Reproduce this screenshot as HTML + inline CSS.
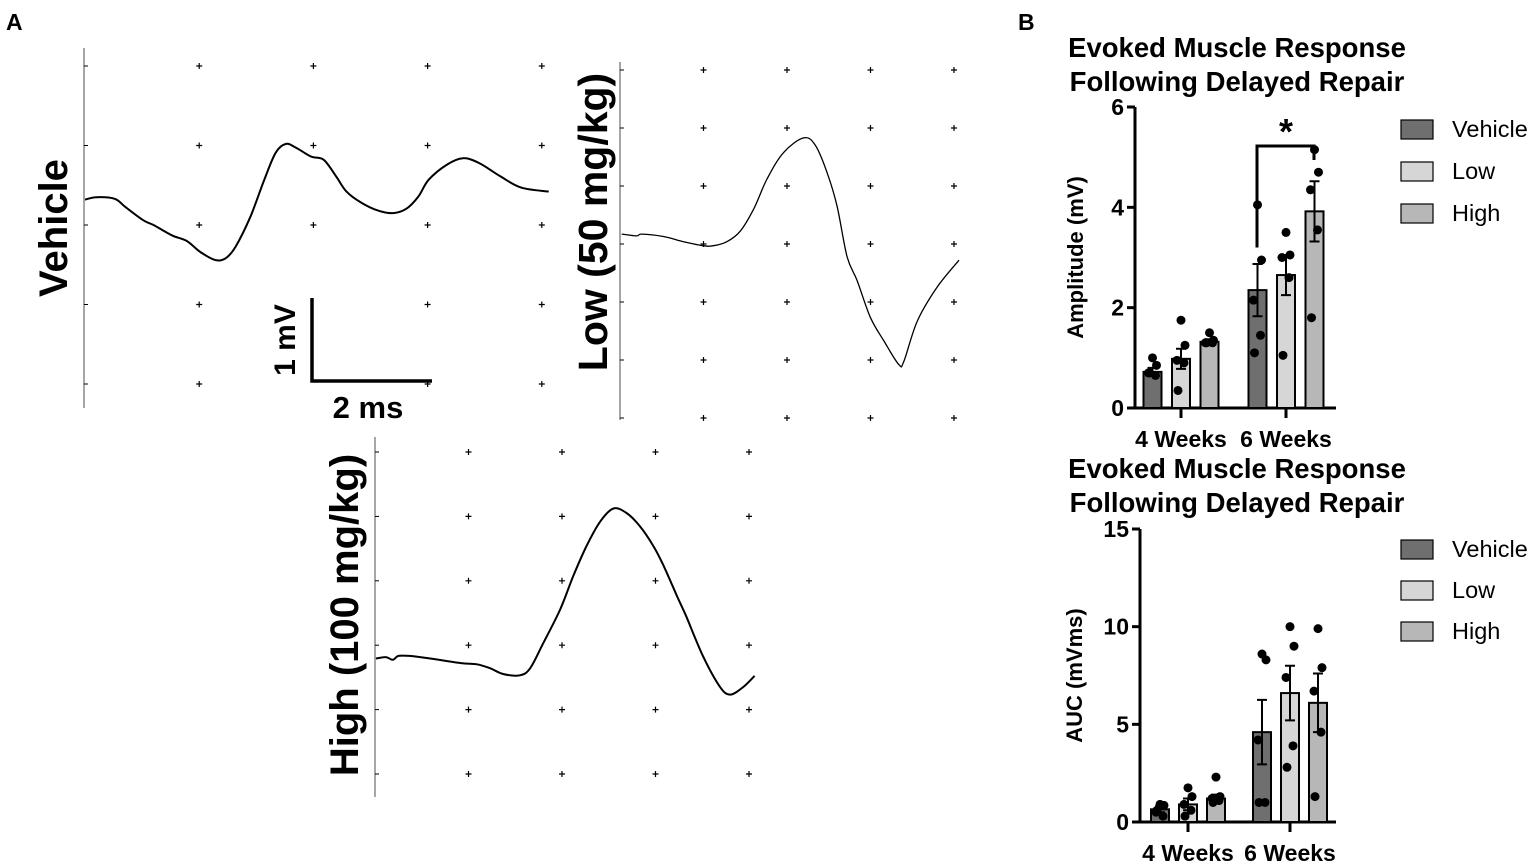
<!DOCTYPE html>
<html><head><meta charset="utf-8"><style>
body{margin:0;background:#fff;font-family:"Liberation Sans",Arial,sans-serif}
svg{display:block}
text{font-family:"Liberation Sans",Arial,sans-serif;font-weight:bold;fill:#000}
</style></head><body>
<svg id="fig" width="1535" height="866" viewBox="0 0 1535 866">
<text x="6" y="30" font-size="23">A</text>
<text x="1018" y="30" font-size="23">B</text>
<g id="traces"></g>
<g id="bars"></g>
</svg>
<script>
// ---- EMG traces (grid units: columns, rows) ----
const vehU=[0,0.10,0.26,0.35,0.51,0.60,0.76,0.89,1.01,1.14,1.23,1.32,1.45,1.57,1.67,1.76,1.85,1.98,2.09,2.20,2.29,2.42,2.57,2.70,2.82,2.92,3.01,3.17,3.31,3.45,3.64,3.82,4.06];
const vehV=[0.32,0.35,0.33,0.23,0.06,0,-0.13,-0.20,-0.34,-0.44,-0.42,-0.27,0.11,0.57,0.91,1.02,0.97,0.86,0.82,0.61,0.42,0.28,0.18,0.15,0.21,0.36,0.57,0.76,0.84,0.78,0.61,0.47,0.42];
const lowU=[0.02,0.2,0.26,0.52,0.76,1.0,1.12,1.28,1.44,1.6,1.76,1.96,2.2,2.34,2.48,2.6,2.72,2.84,3.0,3.16,3.34,3.4,3.56,3.8,4.06];
const lowV=[0.17,0.14,0.17,0.13,0.04,-0.03,-0.03,0.04,0.22,0.6,1.12,1.58,1.83,1.70,1.23,0.65,-0.22,-0.63,-1.27,-1.67,-2.08,-2.02,-1.33,-0.74,-0.28];
const highU=[0.01,0.12,0.19,0.25,0.37,0.59,0.91,1.09,1.23,1.37,1.55,1.66,1.8,1.98,2.12,2.26,2.41,2.55,2.69,2.83,2.98,3.09,3.23,3.33,3.51,3.69,3.8,3.94,4.06];
const highV=[-0.21,-0.19,-0.23,-0.17,-0.17,-0.21,-0.28,-0.30,-0.36,-0.45,-0.47,-0.36,0.03,0.55,1.07,1.53,1.92,2.12,2.05,1.85,1.53,1.22,0.76,0.44,-0.18,-0.65,-0.77,-0.65,-0.48];

// ---- Bar chart data ----
const groups=['4 Weeks','6 Weeks'];
const seriesNames=['Vehicle','Low','High'];
const ampMeans=[[0.72,2.35],[0.98,2.65],[1.32,3.92]];
const ampErr=[[0.08,0.52],[0.2,0.4],[0.05,0.6]];
const ampPts=[[[1.0,0.85,0.7,0.65,0.7],[4.05,2.95,2.15,1.45,1.1]],
              [[1.75,1.25,0.95,0.9,0.35],[3.5,3.05,3.0,2.6,1.05]],
              [[1.5,1.35,1.3,1.3,1.3],[5.15,4.7,4.35,3.55,1.8]]];
const ampTicks=[0,2,4,6];
const aucMeans=[[0.65,4.6],[0.9,6.6],[1.2,6.1]];
const aucErr=[[0.15,1.65],[0.3,1.4],[0.2,1.5]];
const aucPts=[[[0.9,0.85,0.5,0.3,0.6],[8.6,8.3,4.2,1.0,1.0]],
              [[1.75,1.3,0.9,0.6,0.3],[10.0,9.0,7.4,3.9,2.8]],
              [[2.3,1.3,1.2,1.1,1.0],[9.9,7.9,6.7,4.6,1.3]]];
const aucTicks=[0,5,10,15];

const NS='http://www.w3.org/2000/svg';
function mk(tag,attrs,parent){const e=document.createElementNS(NS,tag);for(const k in attrs)e.setAttribute(k,attrs[k]);parent.appendChild(e);return e;}

function smooth(P){
  let d='M'+P[0][0].toFixed(1)+','+P[0][1].toFixed(1);
  for(let i=0;i<P.length-1;i++){
    const p0=P[Math.max(0,i-1)],p1=P[i],p2=P[i+1],p3=P[Math.min(P.length-1,i+2)];
    const c1=[p1[0]+(p2[0]-p0[0])/6,p1[1]+(p2[1]-p0[1])/6];
    const c2=[p2[0]-(p3[0]-p1[0])/6,p2[1]-(p3[1]-p1[1])/6];
    d+=`C${c1[0].toFixed(1)},${c1[1].toFixed(1)} ${c2[0].toFixed(1)},${c2[1].toFixed(1)} ${p2[0].toFixed(1)},${p2[1].toFixed(1)}`;
  }
  return d;
}

const T=document.getElementById('traces');
function panel(p){
  const g=mk('g',{},T);
  
  
  const ax=mk('line',{x1:p.ax,y1:p.yTop,x2:p.ax,y2:p.yBot,stroke:'#888','stroke-width':1.5},g);
  
  
  for(let r=0;r<p.nr;r++){
    const y=p.r0+r*p.rs;
    mk('line',{x1:p.ax,y1:y,x2:p.ax+4,y2:y,stroke:'#000','stroke-width':1},g);
    for(let c=1;c<=4;c++){
      const x=p.c0+c*p.cs;
      if(p.skip&&p.skip(c,r))continue;
      const pl=mk('path',{d:`M${x-3},${y}H${x+3}M${x},${y-3}V${y+3}`,stroke:'#000','stroke-width':1.2},g);
      
      
    }
  }
  const sx=u=>p.c0+u*p.cs, sy=v=>p.zy-v*p.rs;
  const P=p.u.map((u,i)=>[sx(u),sy(p.v[i])]);
  const tr=mk('path',{d:smooth(P),fill:'none',stroke:'#000','stroke-width':p.sw,'stroke-linejoin':'round'},g);
  
  
  const lb=mk('text',{x:0,y:0,'font-size':p.fs,'text-anchor':'middle',transform:`translate(${p.lx},${p.ly}) rotate(-90)`},g);
  lb.textContent=p.label;
  
  
}
panel({name:'vehicle-trace-panel',ax:84,yTop:48,yBot:408,c0:85,cs:114.2,r0:66,rs:79.5,nr:5,zy:225,u:vehU,v:vehV,sw:2,label:'Vehicle',lx:67,ly:228,fs:40,
  skip:(c,r)=>(r>=3&&(c===2))});
panel({name:'low-trace-panel',ax:620,yTop:62,yBot:420,c0:620,cs:83.5,r0:70,rs:58,nr:7,zy:244,u:lowU,v:lowV,sw:1.3,label:'Low (50 mg/kg)',lx:607,ly:222,fs:41});
panel({name:'high-trace-panel',ax:375,yTop:437,yBot:797,c0:375,cs:93.5,r0:452,rs:64.4,nr:6,zy:645,u:highU,v:highV,sw:2,label:'High (100 mg/kg)',lx:358,ly:615,fs:40});

// scale bar
const sb=mk('g',{},T);


mk('path',{d:'M312,298V381H432',fill:'none',stroke:'#000','stroke-width':3.5},sb);
const mv=mk('text',{x:0,y:0,'font-size':30,'text-anchor':'middle',transform:'translate(295,340) rotate(-90)'},sb);
mv.textContent='1 mV';


const ms=mk('text',{x:368,y:418,'font-size':31,'text-anchor':'middle'},sb);
ms.textContent='2 ms';



// ---- Bar charts ----
const B=document.getElementById('bars');
const colors=['#6f6f6f','#d6d6d6','#b7b7b7'];
function chart(c){
  const g=mk('g',{},B);
  
  
  const ys=v=>c.y0-(v/c.max)*(c.y0-c.yTop);
  ['Evoked Muscle Response','Following Delayed Repair'].forEach((t,i)=>{
    const e=mk('text',{x:1237,y:c.titleY+i*34,'font-size':27.5,'text-anchor':'middle'},g);
    e.textContent=t;
    
    
  });
  const yl=mk('text',{x:0,y:0,'font-size':22,'text-anchor':'middle',transform:`translate(${c.ylx},${(c.y0+c.yTop)/2}) rotate(-90)`},g);
  yl.textContent=c.ylabel;
  
  
  mk('line',{x1:c.ax,y1:c.yTop,x2:c.ax,y2:c.y0,stroke:'#000','stroke-width':3},g);
  mk('line',{x1:c.ax-8,y1:c.y0,x2:1336,y2:c.y0,stroke:'#000','stroke-width':3},g);
  c.ticks.forEach(t=>{
    mk('line',{x1:c.ax-8,y1:ys(t),x2:c.ax,y2:ys(t),stroke:'#000','stroke-width':3},g);
    const e=mk('text',{x:c.ax-11,y:ys(t)+8,'font-size':23,'text-anchor':'end'},g);
    e.textContent=t;
    
    
  });
  groups.forEach((gn,gi)=>{
    const cx=c.gc[gi];
    mk('line',{x1:cx,y1:c.y0,x2:cx,y2:c.y0+10,stroke:'#000','stroke-width':3},g);
    const e=mk('text',{x:cx,y:c.y0+39,'font-size':23,'text-anchor':'middle'},g);
    e.textContent=gn;
    
    
    for(let s=0;s<3;s++){
      const bx=cx+(s-1)*c.step, w=18, m=c.means[s][gi], er=c.err[s][gi];
      const r=mk('rect',{x:bx-w/2,y:ys(m),width:w,height:c.y0-ys(m),fill:colors[s],stroke:'#000','stroke-width':2},g);
      
      
      const eb=mk('path',{d:`M${bx},${ys(m-er)}V${ys(m+er)}M${bx-5},${ys(m+er)}H${bx+5}M${bx-5},${ys(m-er)}H${bx+5}`,stroke:'#000','stroke-width':2,fill:'none'},g);
      
      
      c.pts[s][gi].forEach((p,pi)=>{
        const off=[0,4,-4,3,-3][pi];
        const d=mk('circle',{cx:bx+off,cy:ys(p),r:4.5,fill:'#000'},g);
        
        
      });
    }
  });
  seriesNames.forEach((n,i)=>{
    const y=c.legY+i*c.legStep;
    const r=mk('rect',{x:1401,y:y-9,width:32,height:19,fill:colors[i],stroke:'#000','stroke-width':1.2},g);
    
    
    const e=mk('text',{x:1452,y:y+8,'font-size':23.5},g);
    e.style.fontWeight='normal';
    e.textContent=n;
    
    
  });
  return ys;
}
const ysA=chart({name:'amplitude-chart',titleY:57,ax:1135,y0:408,yTop:107,max:6,ticks:ampTicks,ylabel:'Amplitude (mV)',ylx:1083,
  gc:[1181,1286],step:28.5,means:ampMeans,err:ampErr,pts:ampPts,legY:129,legStep:42});
chart({name:'auc-chart',titleY:478,ax:1140,y0:822,yTop:529,max:15,ticks:aucTicks,ylabel:'AUC (mVms)',ylx:1082,
  gc:[1188,1290],step:28,means:aucMeans,err:aucErr,pts:aucPts,legY:549,legStep:41});
// significance bracket
const br=mk('path',{d:`M1257,${ysA(3.2)}V146H1314V160`,fill:'none',stroke:'#000','stroke-width':3},B);


const st=mk('text',{x:1286,y:144,'font-size':36,'text-anchor':'middle'},B);
st.textContent='*';


</script>
</body></html>
